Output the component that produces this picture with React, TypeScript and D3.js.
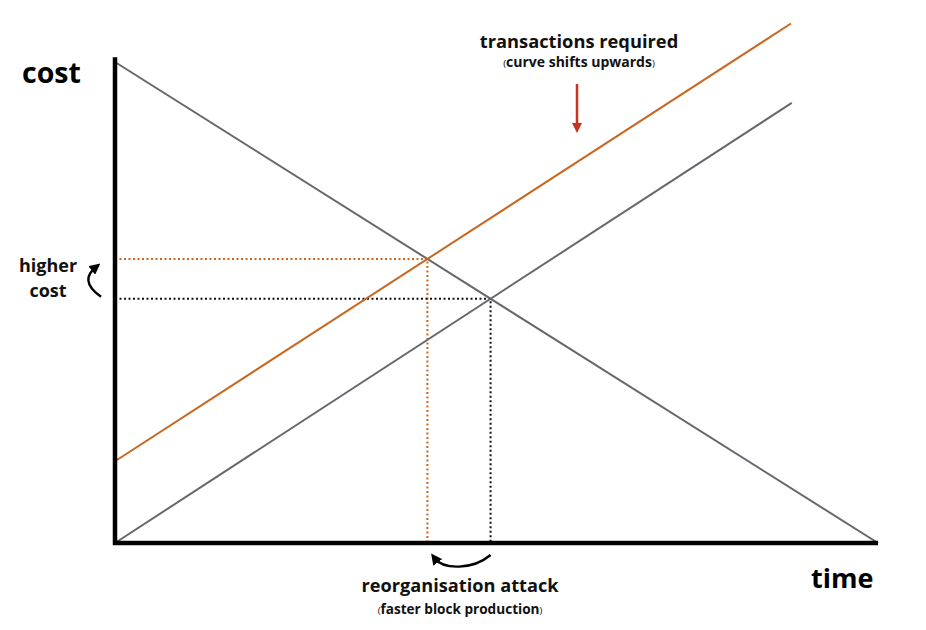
import React, { useRef, useEffect } from 'react';
import * as d3 from 'd3';

// line endpoints in (time, cost) units
const demandLine = [[0, 100], [100, 0]];
const supplyLine = [[0, 0], [88.7, 91.5]];
const shiftedLine = [[0, 17], [88.6, 108]];
const axisLabels = ['cost', 'time'];
const notes = ['transactions required', 'curve shifts upwards', 'reorganisation attack', 'faster block production', 'higher', 'cost'];

function intersect(a, b) {
    const [[x1, y1], [x2, y2]] = a;
    const [[x3, y3], [x4, y4]] = b;
    const d = (x1 - x2) * (y3 - y4) - (y1 - y2) * (x3 - x4);
    const t = ((x1 - x3) * (y3 - y4) - (y1 - y3) * (x3 - x4)) / d;
    return [x1 + t * (x2 - x1), y1 + t * (y2 - y1)];
}

function App() {
    const ref = useRef();

    useEffect(() => {
        const svg = d3.select(ref.current);
        svg.selectAll('*').remove();
        const font = '"Open Sans", Lato, sans-serif';

        const x = d3.scaleLinear().domain([0, 100]).range([115, 878]);
        const y = d3.scaleLinear().domain([0, 100]).range([543, 62]);
        const line = d3.line().x(d => x(d[0])).y(d => y(d[1]));

        const gray = '#65686d';
        const orange = '#c8671f';

        const defs = svg.append('defs');
        defs.append('marker').attr('id', 'blk').attr('viewBox', '0 0 10 10')
            .attr('refX', 5).attr('refY', 5).attr('markerWidth', 11).attr('markerHeight', 11)
            .attr('markerUnits', 'userSpaceOnUse').attr('orient', 'auto')
            .append('path').attr('d', 'M0,0L10,5L0,10z').attr('fill', '#000');
        defs.append('marker').attr('id', 'red').attr('viewBox', '0 0 10 10')
            .attr('refX', 5).attr('refY', 5).attr('markerWidth', 10).attr('markerHeight', 10)
            .attr('markerUnits', 'userSpaceOnUse').attr('orient', 'auto')
            .append('path').attr('d', 'M0,0L10,5L0,10z').attr('fill', '#c8321e');

        // dotted guides
        const p1 = intersect(shiftedLine, demandLine);
        const p2 = intersect(supplyLine, demandLine);
        [[p1, orange], [p2, '#111']].forEach(([p, c]) => {
            svg.append('path')
                .attr('d', line([[0, p[1]], p, [p[0], 0]]))
                .attr('fill', 'none').attr('stroke', c).attr('stroke-width', 2)
                .attr('stroke-dasharray', '2,2.5');
        });

        svg.append('path').attr('d', line(demandLine)).attr('fill', 'none').attr('stroke', gray).attr('stroke-width', 2);
        svg.append('path').attr('d', line(supplyLine)).attr('fill', 'none').attr('stroke', gray).attr('stroke-width', 2);
        svg.append('path').attr('d', line(shiftedLine)).attr('fill', 'none').attr('stroke', orange).attr('stroke-width', 2);

        // axes
        svg.append('path')
            .attr('d', line([[0, 101], [0, 0], [100, 0]]))
            .attr('fill', 'none').attr('stroke', '#000').attr('stroke-width', 4.5);

        svg.append('text').attr('x', 22).attr('y', 83).attr('font-family', font).attr('font-weight', 700)
            .attr('font-size', 28.5).text(axisLabels[0]);
        svg.append('text').attr('x', 811).attr('y', 588).attr('font-family', font).attr('font-weight', 700)
            .attr('font-size', 27).text(axisLabels[1]);

        const label = (t, cx, cy, size) => svg.append('text').attr('x', cx).attr('y', cy)
            .attr('text-anchor', 'middle').attr('font-family', font).attr('font-weight', 700)
            .attr('font-size', size).attr('fill', '#111').text(t);
        const sub = (t, cx, cy, size) => {
            const tx = svg.append('text').attr('x', cx).attr('y', cy)
                .attr('text-anchor', 'middle').attr('font-family', font).attr('font-weight', 700)
                .attr('font-size', size).attr('fill', '#111');
            tx.append('tspan').attr('font-size', size * 0.7).attr('font-weight', 400).text('(');
            tx.append('tspan').text(t);
            tx.append('tspan').attr('font-size', size * 0.7).attr('font-weight', 400).text(')');
        };

        label(notes[0], 579, 48, 18.3);
        sub(notes[1], 579, 67, 14);
        label(notes[2], 460, 592, 18.2);
        sub(notes[3], 460, 614, 13.6);
        label(notes[4], 48, 272, 18);
        label(notes[5], 48, 297, 18);

        // red arrow
        svg.append('path').attr('d', 'M577,84V128').attr('stroke', '#c8321e').attr('stroke-width', 2.5)
            .attr('marker-end', 'url(#red)');

        // curved arrows
        const yc = y(p1[1]), yb = y(p2[1]);
        svg.append('path')
            .attr('d', `M101,${yb - 2}C84,${yb - 14} 86,${yc + 16} 96,${yc + 8}`)
            .attr('fill', 'none').attr('stroke', '#000').attr('stroke-width', 2.4)
            .attr('marker-end', 'url(#blk)');
        const xb = x(p2[0]), xc = x(p1[0]);
        svg.append('path')
            .attr('d', `M${xb},555C${xb - 18},570 ${xc + 16},570 ${xc + 7},558`)
            .attr('fill', 'none').attr('stroke', '#000').attr('stroke-width', 2.4)
            .attr('marker-end', 'url(#blk)');
    }, []);

    return <svg ref={ref} width={926} height={630} style={{ position: 'absolute', left: 0, top: 0 }} />;
}

export default App;
